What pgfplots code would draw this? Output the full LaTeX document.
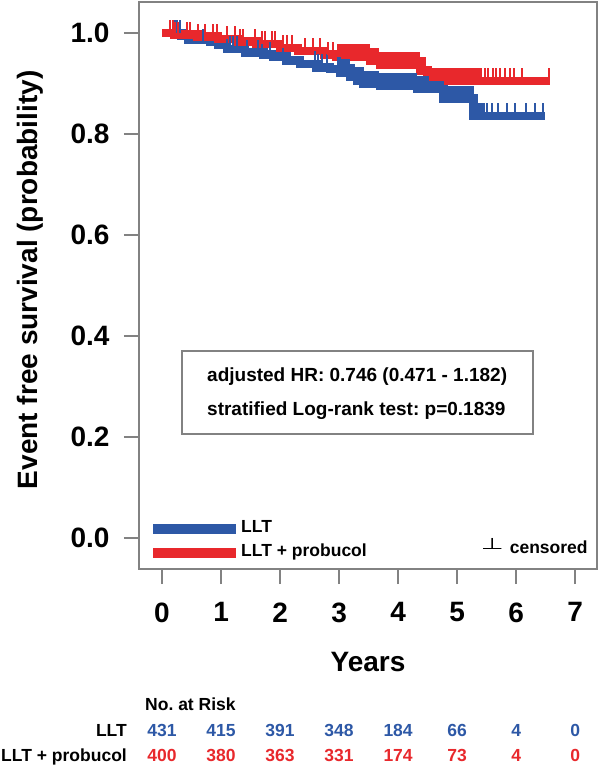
\documentclass[border=0pt]{standalone}
\usepackage{pgfplots}
\pgfplotsset{compat=1.18}
\usepackage{fontspec}
\usepackage{graphicx}
\setmainfont{Liberation Sans}
\newfontfamily\dejavu{DejaVu Sans}
\definecolor{llt}{RGB}{45,88,166}
\definecolor{prob}{RGB}{232,40,44}
\definecolor{frame}{RGB}{130,130,130}
\newcommand\fbig{\fontsize{28}{32}\selectfont\bfseries}
\newcommand\fmid{\fontsize{19}{22}\selectfont\bfseries}
\newcommand\fsmall{\fontsize{17.5}{20}\selectfont\bfseries}
\frenchspacing
% censoring tick: short vertical stroke rising from the curve
\pgfdeclareplotmark{cens}{\pgfpathmoveto{\pgfpointorigin}\pgfpathlineto{\pgfpoint{0pt}{13pt}}\pgfusepathqstroke}

\begin{document}
\begin{tikzpicture}
\begin{axis}[
  at={(0,0)}, anchor=south west,
  scale only axis, width=458pt, height=567pt,
  xmin=-0.39, xmax=7.37, ymin=-0.0614, ymax=1.0614,
  xtick={0,1,2,3,4,5,6,7},
  ytick={0,0.2,0.4,0.6,0.8,1.0},
  axis line style={frame, line width=1.5pt},
  tick style={frame, line width=1.5pt},
  tick align=outside, major tick length=15pt,
  xtick pos=bottom, ytick pos=left,
  /pgf/number format/assume math mode=true,
  ticklabel style={font=\fbig},
  xticklabel style={yshift=-15pt},
  yticklabel style={xshift=-11pt, /pgf/number format/.cd, fixed, fixed zerofill, precision=1},
  xlabel={Years}, ylabel={Event free survival (probability)},
  label style={font=\fbig},
  xlabel style={at={(axis description cs:0.5,-0.164)}, anchor=center},
  ylabel style={at={(axis description cs:-0.238,0.51)}, anchor=center},
  clip=false,
  legend cell align=left,
  legend style={at={(axis description cs:0.0197,0.0141)}, anchor=south west,
    draw=none, fill=none, inner sep=0pt, row sep=8pt,
    nodes={inner sep=0pt, text height=12pt, text depth=4pt, font=\fsmall}},
  legend image code/.code={\draw[line width=10pt] (0pt,0pt) -- (83pt,0pt);},
]
% LLT
\addplot[const plot, llt, line width=8.5pt] coordinates {
 (0,1.000) (0.33,0.994) (0.45,0.986) (0.81,0.982) (0.95,0.976) (1.10,0.968)
 (1.41,0.961) (1.72,0.957) (1.89,0.953) (2.11,0.946) (2.34,0.939) (2.62,0.932)
 (2.85,0.929) (3.02,0.922) (3.19,0.913) (3.30,0.906) (3.41,0.899) (3.69,0.895)
 (4.32,0.890) (4.77,0.870) (5.28,0.836) (6.49,0.836)
};
\addlegendentry{LLT}
% LLT + probucol
\addplot[const plot, prob, line width=8.5pt] coordinates {
 (0,1.000) (0.20,0.997) (0.60,0.993) (0.95,0.988) (1.30,0.983) (1.60,0.978)
 (2.00,0.970) (2.30,0.964) (2.75,0.957) (2.95,0.952) (3.53,0.945) (3.69,0.937)
 (4.37,0.926) (4.50,0.905) (6.58,0.905)
};
\addlegendentry{LLT + probucol}
% censored, LLT (sparse)
\addplot[only marks, mark=cens, llt, line width=2pt, forget plot] coordinates {
 (0.19,1.0) (0.22,1.0) (0.25,1.0) (0.30,1.0) (0.69,0.982) (1.10,0.968) (1.15,0.968)
 (1.20,0.968) (1.27,0.968) (1.44,0.961) (1.63,0.961) (1.69,0.961) (1.83,0.957)
 (2.05,0.953) (2.59,0.939) (2.64,0.932) (2.71,0.932) (2.80,0.932)
 (5.50,0.836) (5.59,0.836) (5.70,0.836) (5.85,0.836)
 (5.98,0.836) (6.17,0.836) (6.32,0.836) (6.46,0.836)
};
% censored, LLT (dense)
\addplot[only marks, mark=cens, llt, line width=3.3pt, forget plot] coordinates {
 (3.00,0.929) (3.05,0.922) (3.10,0.922) (3.15,0.922) (3.20,0.913) (3.25,0.913)
 (3.30,0.906) (3.35,0.906) (3.40,0.906) (3.45,0.899) (3.50,0.899) (3.55,0.899)
 (3.60,0.899) (3.65,0.899) (3.70,0.895) (3.75,0.895) (3.80,0.895) (3.85,0.895)
 (3.90,0.895) (3.95,0.895) (4.00,0.895) (4.05,0.895) (4.10,0.895) (4.15,0.895)
 (4.20,0.895) (4.25,0.895) (4.30,0.895) (4.35,0.890) (4.40,0.890) (4.45,0.890)
 (4.50,0.890) (4.55,0.890) (4.60,0.890) (4.65,0.890) (4.70,0.890) (4.75,0.890)
 (4.80,0.870) (4.85,0.870) (4.90,0.870) (4.95,0.870) (5.00,0.870) (5.05,0.870)
 (5.10,0.870) (5.15,0.870) (5.20,0.870) (5.25,0.870) (5.30,0.836) (5.35,0.836)
 (5.40,0.836) (5.45,0.836)
};
% censored, LLT + probucol (sparse)
\addplot[only marks, mark=cens, prob, line width=2pt, forget plot] coordinates {
 (0.14,1.0) (0.19,1.0) (0.22,0.997) (0.27,0.997) (0.42,0.997) (0.47,0.997)
 (0.61,0.993) (0.73,0.993) (0.86,0.993) (0.93,0.993) (1.10,0.988) (1.24,0.988)
 (1.32,0.983) (1.37,0.983) (1.58,0.983) (1.69,0.978) (1.75,0.978) (1.86,0.978)
 (1.92,0.978) (2.05,0.970) (2.12,0.970) (2.20,0.970) (2.42,0.964) (2.56,0.964)
 (2.68,0.964) (2.81,0.957) (2.90,0.957)
 (5.47,0.905) (5.53,0.905) (5.60,0.905) (5.66,0.905) (5.73,0.905) (5.81,0.905)
 (5.90,0.905) (5.97,0.905) (6.10,0.905) (6.55,0.905)
};
% censored, LLT + probucol (dense)
\addplot[only marks, mark=cens, prob, line width=3.3pt, forget plot] coordinates {
 (3.00,0.952) (3.05,0.952) (3.10,0.952) (3.15,0.952) (3.20,0.952) (3.25,0.952)
 (3.30,0.952) (3.35,0.952) (3.40,0.952) (3.45,0.952) (3.50,0.952) (3.55,0.945)
 (3.60,0.945) (3.65,0.945) (3.70,0.937) (3.75,0.937) (3.80,0.937) (3.85,0.937)
 (3.90,0.937) (3.95,0.937) (4.00,0.937) (4.05,0.937) (4.10,0.937) (4.15,0.937)
 (4.20,0.937) (4.25,0.937) (4.30,0.937) (4.35,0.937) (4.40,0.926) (4.45,0.926)
 (4.55,0.905) (4.60,0.905) (4.65,0.905) (4.70,0.905) (4.75,0.905) (4.80,0.905)
 (4.85,0.905) (4.90,0.905) (4.95,0.905) (5.00,0.905) (5.05,0.905) (5.10,0.905)
 (5.15,0.905) (5.20,0.905) (5.25,0.905) (5.30,0.905) (5.35,0.905) (5.40,0.905)
};
% statistics box
\node[draw=frame, line width=1.5pt, minimum width=351pt, minimum height=83pt, inner sep=0pt]
  at (axis description cs:0.477,0.311) {};
\node[anchor=mid west, font=\fmid, inner sep=0pt] at (axis description cs:0.1485,0.336)
  {adjusted HR: 0.746 (0.471 - 1.182)};
\node[anchor=mid west, font=\fmid, inner sep=0pt] at (axis description cs:0.1485,0.275)
  {stratified Log-rank test: p=0.1839};
% censoring key
\node[anchor=mid east, font=\fsmall, inner sep=0pt] at (axis description cs:0.980,0.0317)
  {\raisebox{4pt}{\scalebox{1.5}[0.9]{\dejavu\mdseries ⊥}}\hspace{6pt}censored};
% numbers at risk
\node[anchor=mid west, font=\fsmall, inner sep=0pt] at (axis cs:-0.288,-0.337) {No. at Risk};
\node[anchor=mid east, font=\fsmall, inner sep=0pt] at (axis cs:-0.593,-0.388) {LLT};
\node[anchor=mid east, font=\fsmall, inner sep=0pt] at (axis cs:-0.593,-0.438) {LLT + probucol};
\node[anchor=mid, font=\fsmall, text=llt] at (axis cs:0,-0.388) {431};
\node[anchor=mid, font=\fsmall, text=llt] at (axis cs:1,-0.388) {415};
\node[anchor=mid, font=\fsmall, text=llt] at (axis cs:2,-0.388) {391};
\node[anchor=mid, font=\fsmall, text=llt] at (axis cs:3,-0.388) {348};
\node[anchor=mid, font=\fsmall, text=llt] at (axis cs:4,-0.388) {184};
\node[anchor=mid, font=\fsmall, text=llt] at (axis cs:5,-0.388) {66};
\node[anchor=mid, font=\fsmall, text=llt] at (axis cs:6,-0.388) {4};
\node[anchor=mid, font=\fsmall, text=llt] at (axis cs:7,-0.388) {0};
\node[anchor=mid, font=\fsmall, text=prob] at (axis cs:0,-0.438) {400};
\node[anchor=mid, font=\fsmall, text=prob] at (axis cs:1,-0.438) {380};
\node[anchor=mid, font=\fsmall, text=prob] at (axis cs:2,-0.438) {363};
\node[anchor=mid, font=\fsmall, text=prob] at (axis cs:3,-0.438) {331};
\node[anchor=mid, font=\fsmall, text=prob] at (axis cs:4,-0.438) {174};
\node[anchor=mid, font=\fsmall, text=prob] at (axis cs:5,-0.438) {73};
\node[anchor=mid, font=\fsmall, text=prob] at (axis cs:6,-0.438) {4};
\node[anchor=mid, font=\fsmall, text=prob] at (axis cs:7,-0.438) {0};
\end{axis}
\pgfresetboundingbox
\path (current axis.south west) ++(-139pt,-198pt) rectangle ++(600pt,767pt);
\end{tikzpicture}
\end{document}
